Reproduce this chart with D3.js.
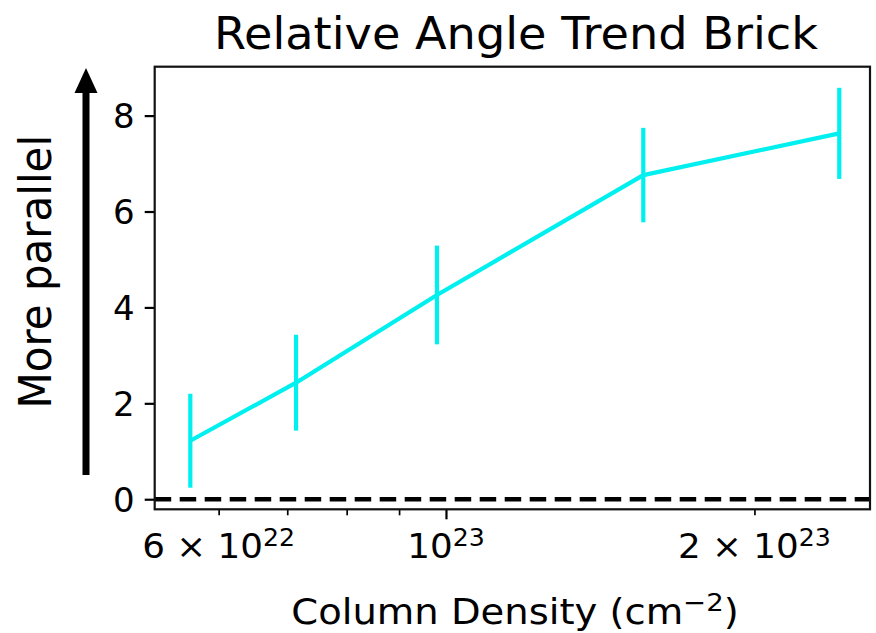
<!DOCTYPE html>
<html>
<head>
<meta charset="utf-8">
<script src="https://cdn.jsdelivr.net/npm/d3@7"></script>
<style>
  html, body { margin: 0; padding: 0; background: #fff; }
  svg { display: block; }
  text { font-family: "DejaVu Sans", sans-serif; fill: #000; }
</style>
</head>
<body>
<svg id="chart" width="876" height="633"></svg>
<script>
// ---- data ----
const densities = [5.63e22, 7.14e22, 9.80e22, 1.558e23, 2.42e23];
const angles = [1.22, 2.43, 4.26, 6.76, 7.63];
const errors = [0.98, 1.0, 1.03, 0.985, 0.95];
const yTicks = [0, 2, 4, 6, 8];
const xMajorTicks = [1e23];
const xMinorTicks = [6e22, 7e22, 8e22, 9e22, 2e23];
const xTickLabels = [
  { v: 6e22, base: "6 × 10", sup: "22" },
  { v: 1e23, base: "10", sup: "23" },
  { v: 2e23, base: "2 × 10", sup: "23" }
];
const titleText = "Relative Angle Trend Brick";
const yLabelText = "More parallel";

// ---- layout ----
const L = 154.7, R = 870, T = 66.7, B = 509.3;
const svg = d3.select("#chart");

const x = d3.scaleLog().domain([5.197e22, 2.593e23]).range([L, R]);
const y = d3.scaleLinear().domain([-0.21, 9.02]).range([B, T]);

// horizontal stretch helper (reference glyphs are slightly wide)
function stretchAt(px, py, sx) {
  return `translate(${px},${py}) scale(${sx},1) translate(${-px},${-py})`;
}

// zero dashed line
svg.append("line")
  .attr("x1", L).attr("x2", R)
  .attr("y1", y(0)).attr("y2", y(0))
  .attr("stroke", "#000").attr("stroke-width", 4.5)
  .attr("stroke-dasharray", "16.5,8.5");

// error bars
const col = "#00f0f0";
svg.append("g").selectAll("line").data(densities).join("line")
  .attr("x1", d => x(d)).attr("x2", d => x(d))
  .attr("y1", (d, i) => y(angles[i] - errors[i]))
  .attr("y2", (d, i) => y(angles[i] + errors[i]))
  .attr("stroke", col).attr("stroke-width", 4.2);

// line
const line = d3.line().x(d => x(d[0])).y(d => y(d[1]));
svg.append("path")
  .datum(densities.map((d, i) => [d, angles[i]]))
  .attr("d", line)
  .attr("fill", "none").attr("stroke", col)
  .attr("stroke-width", 4.2).attr("stroke-linejoin", "round");

// y axis
const yAxis = svg.append("g").attr("transform", `translate(${L},0)`)
  .call(d3.axisLeft(y).tickValues(yTicks).tickSize(10).tickPadding(10).tickFormat(d3.format("d")));
yAxis.select(".domain").remove();
yAxis.selectAll(".tick line").attr("stroke", "#000").attr("stroke-width", 2.2);
yAxis.selectAll(".tick text").attr("font-size", 34).attr("font-family", "DejaVu Sans").attr("fill", "#000").attr("dy", "0.36em");

// x axis major
const xAxisMaj = svg.append("g").attr("transform", `translate(0,${B})`)
  .call(d3.axisBottom(x).tickValues(xMajorTicks).tickSize(10).tickFormat(""));
xAxisMaj.select(".domain").remove();
xAxisMaj.selectAll(".tick line").attr("stroke", "#000").attr("stroke-width", 2.2);

// x axis minor
const xAxisMin = svg.append("g").attr("transform", `translate(0,${B})`)
  .call(d3.axisBottom(x).tickValues(xMinorTicks).tickSize(6).tickFormat(""));
xAxisMin.select(".domain").remove();
xAxisMin.selectAll(".tick line").attr("stroke", "#000").attr("stroke-width", 1.7);

// x tick labels
const xl = svg.append("g").selectAll("text").data(xTickLabels).join("text")
  .attr("x", d => x(d.v)).attr("y", 558)
  .attr("transform", d => stretchAt(x(d.v), 558, 1.05))
  .attr("text-anchor", "middle").attr("font-size", 34);
xl.append("tspan").text(d => d.base);
xl.append("tspan").attr("dy", -12).attr("font-size", 24).text(d => d.sup);

// spines
svg.append("rect")
  .attr("x", L).attr("y", T).attr("width", R - L).attr("height", B - T)
  .attr("fill", "none").attr("stroke", "#111").attr("stroke-width", 2.2);

// title
const tx = 516;
svg.append("text").attr("x", tx).attr("y", 49)
  .attr("transform", stretchAt(tx, 49, 1.05))
  .attr("text-anchor", "middle").attr("font-size", 44).text(titleText);

// x label
const lx = 515;
const xlab = svg.append("text").attr("x", lx).attr("y", 624)
  .attr("transform", stretchAt(lx, 624, 1.1))
  .attr("text-anchor", "middle").attr("font-size", 35);
xlab.append("tspan").text("Column Density (cm");
xlab.append("tspan").attr("dy", -13).attr("font-size", 25).text("−2");
xlab.append("tspan").attr("dy", 13).text(")");

// y label
svg.append("text")
  .attr("transform", "translate(50.7,271.7) scale(1.05,1) rotate(-90)")
  .attr("text-anchor", "middle").attr("font-size", 42).text(yLabelText);

// arrow
svg.append("line")
  .attr("x1", 86).attr("x2", 86).attr("y1", 475).attr("y2", 90)
  .attr("stroke", "#000").attr("stroke-width", 7);
svg.append("path")
  .attr("d", "M74.5,93 L86,68 L97.5,93 Z")
  .attr("fill", "#000");
</script>
</body>
</html>
